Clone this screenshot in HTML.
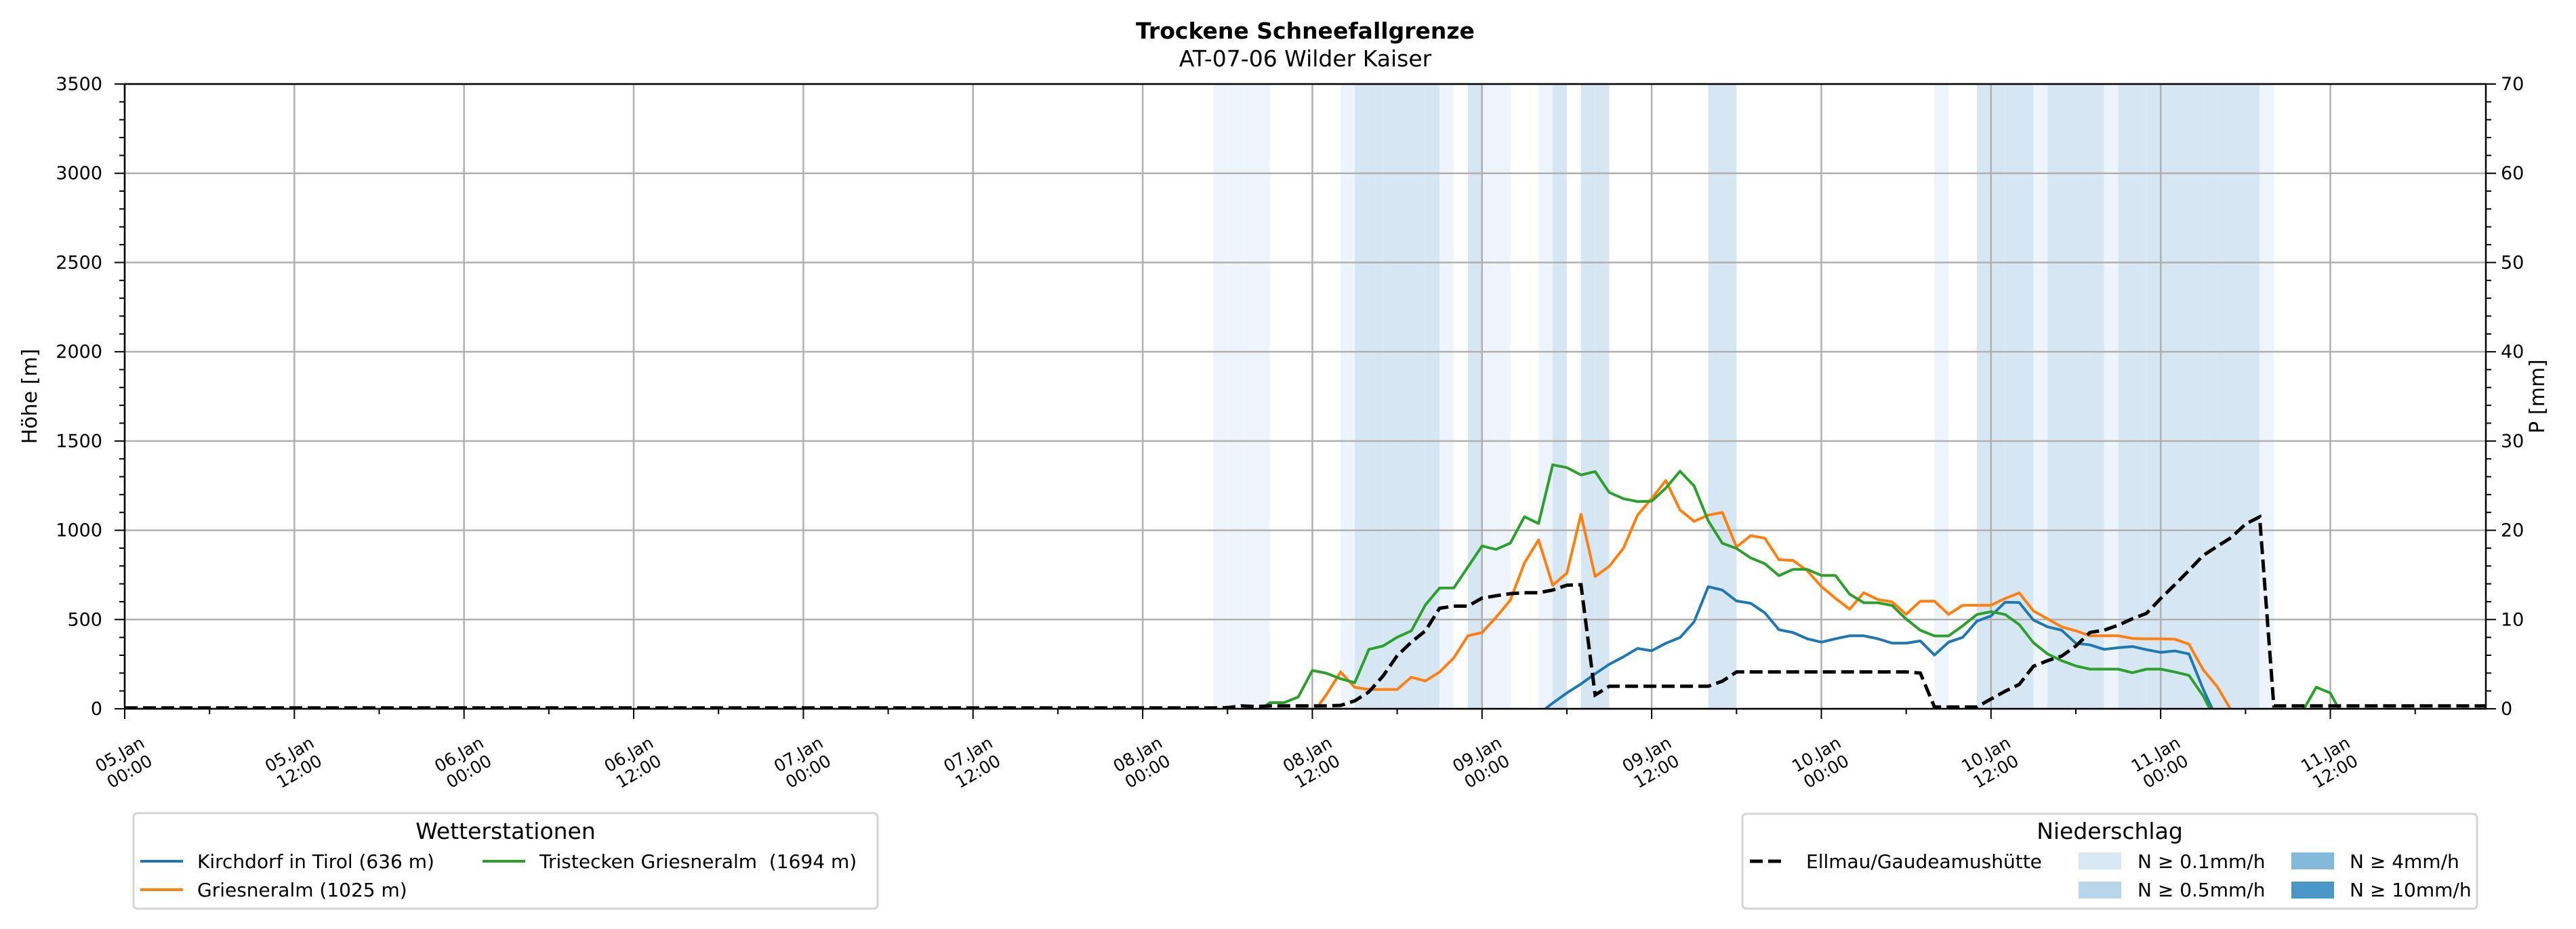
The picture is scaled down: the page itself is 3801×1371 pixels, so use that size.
<!DOCTYPE html>
<html><head><meta charset="utf-8"><style>
html,body{margin:0;padding:0;background:#fff;}
svg{display:block;font-family:"DejaVu Sans","Liberation Sans",sans-serif;}
</style></head><body>
<svg id="chart" width="3801" height="1371" viewBox="0 0 3801 1371" xmlns="http://www.w3.org/2000/svg">
<text x="1926" y="57" text-anchor="middle" font-size="33" font-weight="bold">Trockene Schneefallgrenze</text>
<text x="1926" y="98" text-anchor="middle" font-size="33">AT-07-06 Wilder Kaiser</text>
<g id="bands"></g>
<g id="grid"></g>
<defs><clipPath id="clip"><rect x="184" y="124" width="3484" height="922"/></clipPath></defs>
<g id="series" clip-path="url(#clip)"></g>
<g id="axes"></g>
<text transform="translate(54,585) rotate(-90)" text-anchor="middle" font-size="30">Höhe [m]</text>
<text transform="translate(3754,585) rotate(-90)" text-anchor="middle" font-size="30">P [mm]</text>

<g>
<rect x="197" y="1200" width="1098" height="141" rx="6" fill="#fff" stroke="#d4d4d4" stroke-width="3"/>
<text x="746" y="1238" text-anchor="middle" font-size="33">Wetterstationen</text>
<line x1="207" y1="1271" x2="270" y2="1271" stroke="#1f77b4" stroke-width="4"/>
<text x="291" y="1281" font-size="28">Kirchdorf in Tirol (636 m)</text>
<line x1="207" y1="1313" x2="270" y2="1313" stroke="#ff7f0e" stroke-width="4"/>
<text x="291" y="1323" font-size="28">Griesneralm (1025 m)</text>
<line x1="712" y1="1271" x2="775" y2="1271" stroke="#2ca02c" stroke-width="4"/>
<text x="796" y="1281" font-size="28" xml:space="preserve">Tristecken Griesneralm  (1694 m)</text>
</g>

<g>
<rect x="2571" y="1201" width="1084" height="140" rx="6" fill="#fff" stroke="#d4d4d4" stroke-width="3"/>
<text x="3113" y="1238" text-anchor="middle" font-size="33">Niederschlag</text>
<line x1="2582" y1="1271" x2="2636" y2="1271" stroke="#000" stroke-width="5" stroke-dasharray="19,8"/>
<text x="2665" y="1281" font-size="28">Ellmau/Gaudeamushütte</text>
<rect x="3067" y="1258" width="63" height="25" fill="#d9e8f5"/>
<text x="3154" y="1281" font-size="28">N ≥ 0.1mm/h</text>
<rect x="3067" y="1301" width="63" height="25" fill="#b9d5ea"/>
<text x="3154" y="1323" font-size="28">N ≥ 0.5mm/h</text>
<rect x="3381" y="1258" width="63" height="25" fill="#82badb"/>
<text x="3467" y="1281" font-size="28">N ≥ 4mm/h</text>
<rect x="3381" y="1301" width="63" height="25" fill="#4a98c9"/>
<text x="3467" y="1323" font-size="28">N ≥ 10mm/h</text>
</g>
</svg>
<script>
// ---- data (hours since 05.Jan 00:00) ----
const xTickLabels = ["05.Jan\n00:00","05.Jan\n12:00","06.Jan\n00:00","06.Jan\n12:00","07.Jan\n00:00","07.Jan\n12:00","08.Jan\n00:00","08.Jan\n12:00","09.Jan\n00:00","09.Jan\n12:00","10.Jan\n00:00","10.Jan\n12:00","11.Jan\n00:00","11.Jan\n12:00"];
const yTicks = [0,500,1000,1500,2000,2500,3000,3500];
const y2Ticks = [0,10,20,30,40,50,60,70];
const kirchdorfStart = 100;
const kirchdorf = [-30,32,89,139,196,249,291,338,325,367,399,487,684,665,604,591,538,443,427,392,373,392,409,409,392,368,368,380,301,373,400,491,520,597,595,497,459,440,367,358,333,342,349,331,316,324,307,111,-60];
const griesStart = 84;
const griesneralm = [-30,80,206,120,108,108,108,177,156,206,285,409,427,513,608,817,946,692,760,1089,741,798,899,1085,1177,1279,1114,1050,1085,1100,906,970,956,835,831,774,685,619,558,650,612,599,529,603,603,529,580,580,580,618,649,548,504,459,437,409,409,409,394,392,392,390,362,219,124,-10];
const tristStart = 80;
const tristecken = [-20,34,34,66,215,199,168,146,333,352,401,437,582,677,677,794,912,893,928,1076,1038,1367,1351,1310,1329,1212,1177,1161,1163,1236,1331,1249,1053,927,898,845,813,746,781,781,747,747,642,594,594,579,503,440,408,408,465,528,544,528,472,370,307,269,240,222,222,222,202,222,222,206,187,73,-80,null,null,null,null,null,-20,121,88,-60];
const ellmauP = [0.1,0.1,0.1,0.1,0.1,0.1,0.1,0.1,0.1,0.1,0.1,0.1,0.1,0.1,0.1,0.1,0.1,0.1,0.1,0.1,0.1,0.1,0.1,0.1,0.1,0.1,0.1,0.1,0.1,0.1,0.1,0.1,0.1,0.1,0.1,0.1,0.1,0.1,0.1,0.1,0.1,0.1,0.1,0.1,0.1,0.1,0.1,0.1,0.1,0.1,0.1,0.1,0.1,0.1,0.1,0.1,0.1,0.1,0.1,0.1,0.1,0.1,0.1,0.1,0.1,0.1,0.1,0.1,0.1,0.1,0.1,0.1,0.1,0.1,0.1,0.1,0.1,0.1,
0.13,0.33,0.25,0.33,0.33,0.33,0.33,0.33,0.38,0.89,1.9,3.67,5.95,7.47,8.74,11.27,11.5,11.5,12.4,12.66,12.9,13.0,13.0,13.3,13.85,13.9,
1.55,2.53,2.53,2.53,2.53,2.53,2.53,2.53,2.53,3.1,4.13,4.13,4.13,4.13,4.13,4.13,4.13,4.13,4.13,4.13,4.13,4.13,4.13,4.0,0.2,0.2,0.2,0.2,
1.09,1.97,2.73,4.76,5.39,5.9,7.04,8.56,8.81,9.37,10.08,10.7,12.36,13.9,15.5,17.17,18.2,19.2,20.7,21.5,
0.33,0.33,0.33,0.33,0.33,0.33,0.33,0.33,0.33,0.33,0.33,0.33,0.33,0.33,0.33,0.33];
const precipHours = [77,78,79,80,86,87,88,89,90,91,92,93,95,96,97,100,101,103,104,112,113,128,131,132,133,134,135,136,137,138,139,140,141,142,143,144,145,146,147,148,149,150,151];
const precipLevel = [1,1,1,1,1,2,2,2,2,2,2,1,2,1,1,1,2,2,2,2,2,1,2,2,2,2,1,2,2,2,2,1,2,2,2,2,2,2,2,2,2,2,1];

// ---- scales ----
const X0=184, X1=3668, H0=0, H1=167, Y0=1046, YT=124;
function xs(h){return X0+(h-H0)/(H1-H0)*(X1-X0);}
function ys(m){return Y0-m/3500*(Y0-YT);}
function yp(mm){return Y0-mm/70*(Y0-YT);}
const NS="http://www.w3.org/2000/svg";
function mk(tag,attrs,parent){const e=document.createElementNS(NS,tag);for(const k in attrs)e.setAttribute(k,attrs[k]);parent.appendChild(e);return e;}

const bands=document.getElementById('bands');
precipHours.forEach((h,i)=>{
  const r=mk('rect',{x:xs(h),y:YT,width:xs(h+1)-xs(h),height:Y0-YT,fill:precipLevel[i]===1?'#eef4fb':'#d6e6f3'},bands);
  
  
});

const grid=document.getElementById('grid');
xTickLabels.forEach((l,i)=>{
  const x=xs(i*12);
  const g=mk('line',{x1:x,y1:YT,x2:x,y2:Y0,stroke:'#b0b0b0','stroke-width':2.5},grid);
  
  
});
yTicks.forEach(v=>{
  const y=ys(v);
  const g=mk('line',{x1:X0,y1:y,x2:X1,y2:y,stroke:'#b0b0b0','stroke-width':2.5},grid);
  
  
});

const series=document.getElementById('series');
function drawLine(start,vals,color){
  let d='',pen=false;
  vals.forEach((v,i)=>{
    if(v===null){pen=false;return;}
    d+=(pen?'L':'M')+xs(start+i).toFixed(1)+','+ys(v).toFixed(1);pen=true;
  });
  const p=mk('path',{d:d,fill:'none',stroke:color,'stroke-width':4,'stroke-linejoin':'round'},series);
  
  return p;
}
const l1=drawLine(kirchdorfStart,kirchdorf,'#1f77b4');

const l2=drawLine(griesStart,griesneralm,'#ff7f0e');

const l3=drawLine(tristStart,tristecken,'#2ca02c');

let dp='';
ellmauP.forEach((v,i)=>{dp+=(i?'L':'M')+xs(i).toFixed(1)+','+yp(v).toFixed(1);});
const pl=mk('path',{d:dp,fill:'none',stroke:'#000','stroke-width':5,'stroke-dasharray':'19,8'},series);



const axes=document.getElementById('axes');
const frame=mk('rect',{x:X0,y:YT,width:X1-X0,height:Y0-YT,fill:'none',stroke:'#000','stroke-width':2.5},axes);


for(let h=0;h<=H1;h+=6){
  const major=h%12===0;
  mk('line',{x1:xs(h),y1:Y0,x2:xs(h),y2:Y0+(major?15:8),stroke:'#000','stroke-width':2},axes);
}
xTickLabels.forEach((l,i)=>{
  const parts=l.split('\n');
  const g=mk('g',{transform:`translate(${xs(i*12)},1126) rotate(-30)`},axes);
  
  
  mk('text',{x:0,y:-6,'text-anchor':'middle','font-size':25},g).textContent=parts[0];
  mk('text',{x:0,y:23,'text-anchor':'middle','font-size':25},g).textContent=parts[1];
});
for(let m=0;m<=3500;m+=100){
  const major=m%500===0;
  mk('line',{x1:X0,y1:ys(m),x2:X0-(major?15:8),y2:ys(m),stroke:'#000','stroke-width':2},axes);
}
yTicks.forEach(v=>{
  const t=mk('text',{x:151,y:ys(v)+9,'text-anchor':'end','font-size':27},axes);
  t.textContent=v;
  
  
});
for(let p=0;p<=70;p+=2){
  const major=p%10===0;
  mk('line',{x1:X1,y1:yp(p),x2:X1+(major?15:8),y2:yp(p),stroke:'#000','stroke-width':2},axes);
}
y2Ticks.forEach(v=>{
  const t=mk('text',{x:3690,y:yp(v)+9,'text-anchor':'start','font-size':27},axes);
  t.textContent=v;
  
  
});
</script>
</body></html>
